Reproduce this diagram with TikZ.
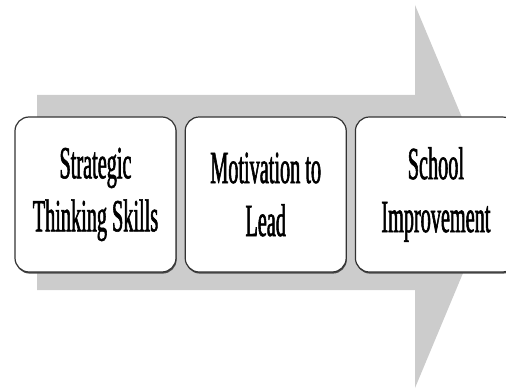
\documentclass[tikz,border=0pt]{standalone}
\usepackage{fontspec}
\newfontfamily\stagefont[FakeStretch=0.44,FakeBold=1.2]{Liberation Serif}
\usetikzlibrary{positioning,shadows}
\definecolor{arrow-gray}{gray}{0.8}
\tikzset{
  stage/.style={draw=black!80, line width=1.2pt, fill=white, rounded corners=14pt,
    minimum width=161pt, minimum height=155pt, inner sep=0pt, align=center,
    font=\stagefont\fontsize{46}{53}\selectfont,
    drop shadow={shadow xshift=0.6pt, shadow yshift=-1.6pt, fill=black!70, opacity=1}}
}

\begin{document}
\begin{tikzpicture}[x=1pt,y=1pt]
	\useasboundingbox (0,0) rectangle (506,389);
	\clip (0,0) rectangle (506,389);
	% big block arrow behind the stages
	\fill[arrow-gray] (37,294) -- (415,294) -- (415,384) -- (495,192.5)
		-- (415,1) -- (415,99) -- (37,99) -- cycle;
	% the three stages
	\node[stage] (thinking) at (95.5,194.5) {Strategic\\Thinking Skills};
	\node[stage, right=8pt of thinking] (motivation) {Motivation to\\Lead};
	\node[stage, right=8pt of motivation] (school) {School\\Improvement};
\end{tikzpicture}
\end{document}
